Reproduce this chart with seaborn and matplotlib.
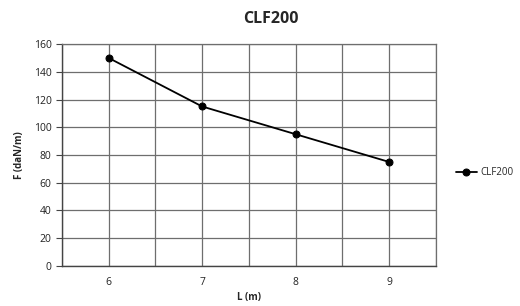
import matplotlib.pyplot as plt
import seaborn as sns
import pandas as pd

# chart data
lengths = [6, 7, 8, 9]
forces = [150, 115, 95, 75]
series_name = "CLF200"
y_ticks = [0, 20, 40, 60, 80, 100, 120, 140, 160]

df = pd.DataFrame({"L": lengths, "F": forces, "serie": series_name})

sns.set_style("white")
plt.rcParams['font.family'] = ['Open Sans', 'DejaVu Sans']

fig = plt.figure(figsize=(5.2, 3.06), dpi=100)
ax = fig.add_axes([0.119, 0.131, 0.719, 0.725])

sns.lineplot(data=df, x="L", y="F", hue="serie", palette=["black"],
             marker="o", markersize=5, linewidth=1.3, ax=ax,
             markeredgecolor="black")

# category style x axis: labels at centres, ticks at boundaries
ax.set_xlim(lengths[0] - 0.5, lengths[-1] + 0.5)
ax.set_xticks(lengths)
ax.set_xticks([v - 0.5 for v in lengths] + [lengths[-1] + 0.5], minor=True)
ax.set_ylim(0, 160)
ax.set_yticks(y_ticks)

grid_color = "#6e6e6e"
ax.grid(True, which="both", color=grid_color, linewidth=0.9)
ax.set_axisbelow(True)
for side in ["top", "right"]:
    ax.spines[side].set_color(grid_color)
    ax.spines[side].set_linewidth(0.9)
for side in ["left", "bottom"]:
    ax.spines[side].set_color("#444444")
    ax.spines[side].set_linewidth(1.0)

ax.tick_params(axis="x", which="major", length=0, pad=8, labelsize=7.5, colors="#222222")
ax.tick_params(axis="x", which="minor", length=4, direction="out", color="#444444", width=1.0)
ax.tick_params(axis="y", which="major", length=4, direction="out", labelsize=7.5,
               colors="#222222", color="#444444", left=True)

ax.set_xlabel("L (m)", fontsize=7, fontweight="bold", labelpad=3)
ax.set_ylabel("F (daN/m)", fontsize=7, fontweight="bold", labelpad=6)
fig.suptitle("CLF200", x=0.52, y=0.965, fontsize=11.5, fontweight="bold")

leg = ax.legend(loc="center left", bbox_to_anchor=(1.03, 0.42), frameon=False,
                fontsize=7, handlelength=2.2, handletextpad=0.3)

plt.savefig("out.png", dpi=100)
plt.close()
